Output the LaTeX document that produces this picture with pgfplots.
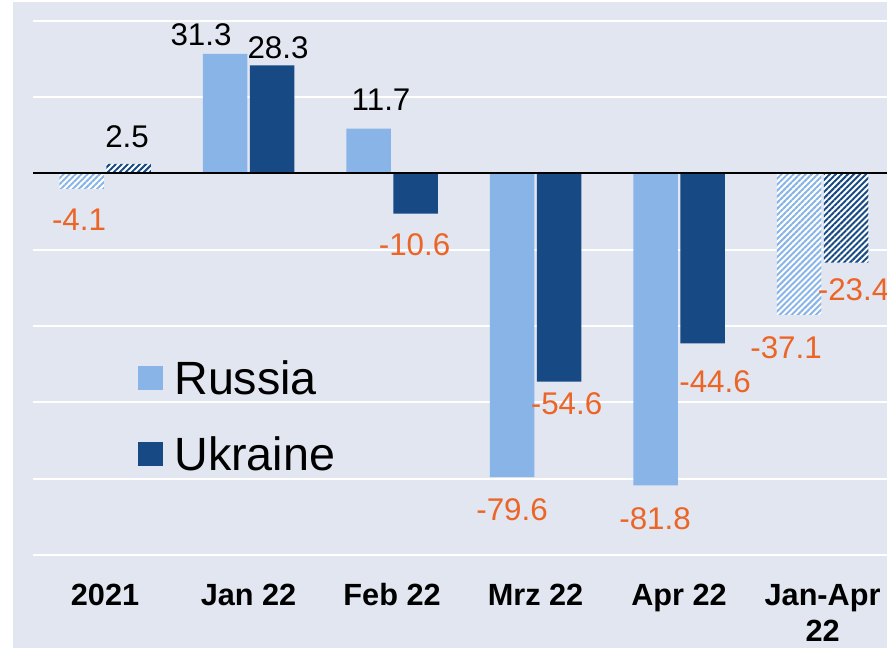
\documentclass[border=0pt]{standalone}
\usepackage{pgfplots}
\pgfplotsset{compat=1.18}
\usepackage{pgfplotstable}
\usepackage{fontspec}
\setmainfont{Liberation Sans}
\usetikzlibrary{patterns.meta}
\definecolor{bgc}{RGB}{225,230,240}
\definecolor{rus}{RGB}{136,180,231}
\definecolor{ukr}{RGB}{23,74,132}
\definecolor{negc}{RGB}{236,100,38}

% x value, label shift (px right of category centre), label shift (px up), negative flag, label
\pgfplotstableread{
x y dx up neg lbl
1 31.3 -47.5 19 0 31.3
2 11.7 -11 29 0 11.7
3 -79.6 -23.5 -33 1 -79.6
4 -81.8 -24 -33 1 -81.8
}\rusdata
\pgfplotstableread{
x y dx up neg lbl
1 28.3 29.5 18 0 28.3
2 -10.6 22.5 -31 1 -10.6
3 -54.6 31 -22 1 -54.6
4 -44.6 36 -38 1 -44.6
}\ukrdata
\pgfplotstableread{
x y dx up neg lbl
0 -4.1 -26 -31 1 -4.1
5 -37.1 -36.5 -33 1 -37.1
}\rushatch
\pgfplotstableread{
x y dx up neg lbl
0 2.5 22 27 0 2.5
5 -23.4 31 -27 1 -23.4
}\ukrhatch

\pgfplotsset{
  lblstyle/.style={
    point meta=explicit symbolic,
    visualization depends on={\thisrow{dx} \as \lbldx},
    visualization depends on={\thisrow{up} \as \lblup},
    visualization depends on={\thisrow{neg} \as \isneg},
    nodes near coords={\ifdim\isneg pt>0.5pt \color{negc}\fi\pgfplotspointmeta},
    nodes near coords style={anchor=center, inner sep=0pt,
      font=\fontsize{23.5}{28}\selectfont,
      xshift={\lbldx*0.75pt}, yshift={\lblup*0.75pt}},
  },
}

\begin{document}
\begin{tikzpicture}
\fill[bgc] (-15pt,-58.425pt) rectangle (640.5pt,426.075pt);
\begin{axis}[
  scale only axis,
  width=640.5pt, height=423.5pt,
  xmin=-0.502, xmax=5.449,
  ymin=-104, ymax=44,
  enlargelimits=false,
  axis line style={draw=none},
  major tick length=0pt,
  ytick={-100,-80,...,40},
  yticklabels={},
  ymajorgrids,
  grid style={white, line width=1.5pt},
  xtick={0,1,2,3,4,5},
  xticklabels={2021, Jan 22, Feb 22, Mrz 22, Apr 22, {Jan-Apr\\22}},
  typeset ticklabels with strut,
  xticklabel style={font=\fontsize{23}{27}\selectfont\bfseries, align=center,
    anchor=north, inner sep=0pt, yshift=-7.3pt},
  legend cell align=left,
  legend style={at={(axis cs:0.23,-37.93)}, anchor=north west, draw=none,
    fill=none, inner sep=0pt, row sep=0pt,
    font=\fontsize{35}{42}\selectfont,
    nodes={inner sep=0pt, text height=57pt, text depth=0pt}},
]
\addplot[ybar, bar width=0.31, bar shift=-0.164, fill=rus, draw=none, lblstyle,
  legend image code/.code={\fill[rus] (0pt,-25.5pt) rectangle (18.75pt,-7.5pt); \path (27pt,0pt);}]
  table[x=x, y=y, meta=lbl] {\rusdata};
\addlegendentry{Russia}
\addplot[ybar, bar width=0.31, bar shift=0.164, fill=ukr, draw=none, lblstyle,
  legend image code/.code={\fill[ukr] (0pt,-25.5pt) rectangle (18.75pt,-7.5pt); \path (27pt,0pt);}]
  table[x=x, y=y, meta=lbl] {\ukrdata};
\addlegendentry{Ukraine}
\addplot[ybar, bar width=0.31, bar shift=-0.164, fill=white, draw=none, forget plot,
  postaction={pattern={Lines[angle=45, distance=3.2pt, line width=1.5pt]}, pattern color=rus},
  lblstyle]
  table[x=x, y=y, meta=lbl] {\rushatch};
\addplot[ybar, bar width=0.31, bar shift=0.164, fill=white, draw=none, forget plot,
  postaction={pattern={Lines[angle=45, distance=3.2pt, line width=1.5pt]}, pattern color=ukr},
  lblstyle]
  table[x=x, y=y, meta=lbl] {\ukrhatch};
\addplot[black, line width=1.5pt, forget plot] coordinates {(-0.6,0) (5.6,0)};
\end{axis}
\pgfresetboundingbox
\path[use as bounding box] (-24.75pt,-58.425pt) rectangle (640.5pt,427.575pt);
\end{tikzpicture}
\end{document}
